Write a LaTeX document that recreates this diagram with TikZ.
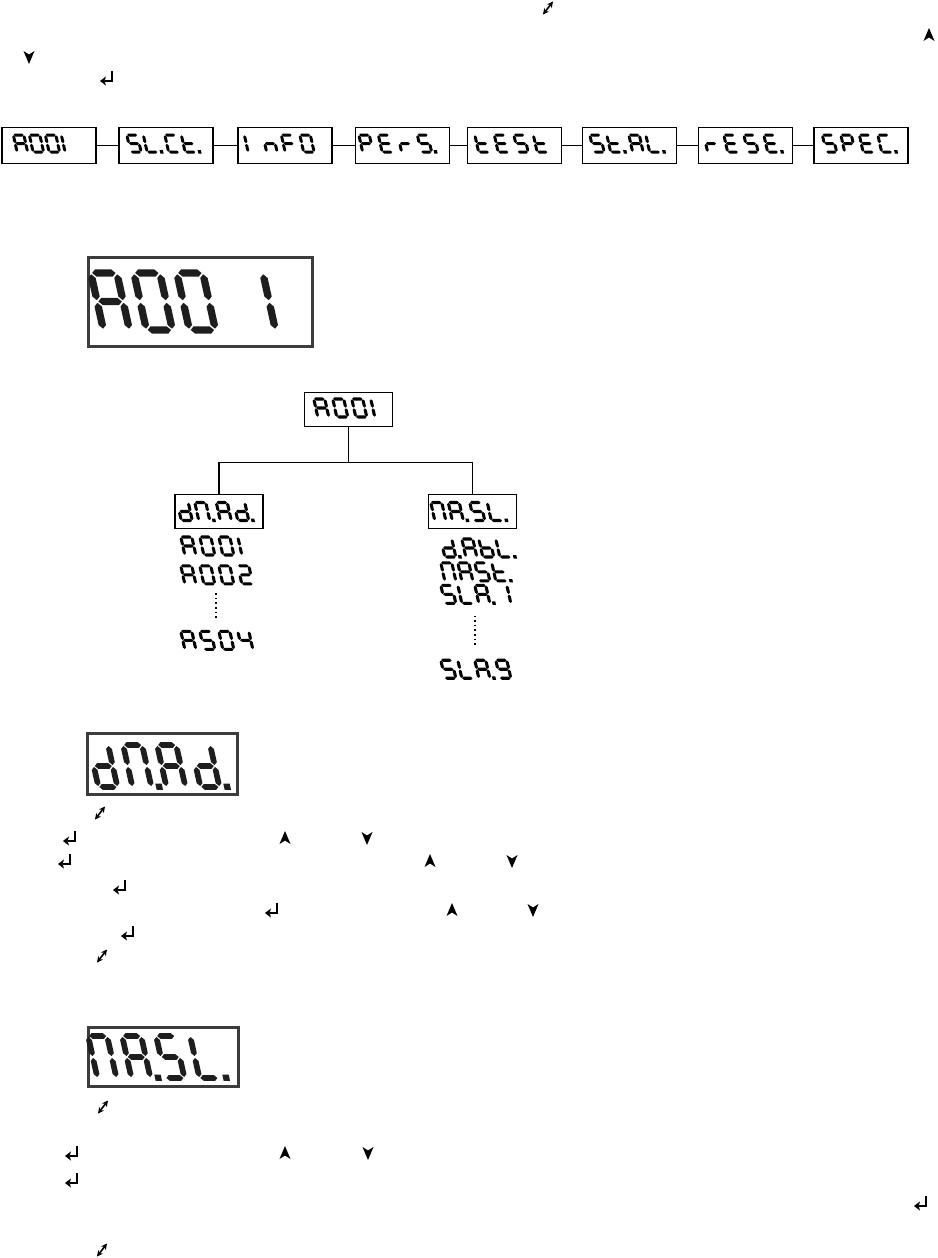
\documentclass[tikz,border=0pt]{standalone}
\usepackage{xstring}
\usepackage{tikz}
\usetikzlibrary{arrows.meta,positioning,calc}
\definecolor{Lcd}{HTML}{1E1E1E}
\definecolor{LcdFrame}{HTML}{3C3C3C}

% seven segment glyphs: \segW width, \segH half height, \segT half thickness, \segG gap, \segD room for a dot
\newcommand{\hseg}[2]{\fill (#1+\segG,#2) -- ++(\segT,\segT) -- (#1+\segW-\segG-\segT,#2+\segT) -- (#1+\segW-\segG,#2) -- (#1+\segW-\segG-\segT,#2-\segT) -- (#1+\segG+\segT,#2-\segT) -- cycle;}
\newcommand{\vseg}[2]{\fill (#1,#2+\segG) -- ++(\segT,\segT) -- (#1+\segT,#2+\segH-\segG-\segT) -- (#1,#2+\segH-\segG) -- (#1-\segT,#2+\segH-\segG-\segT) -- (#1-\segT,#2+\segG+\segT) -- cycle;}
\newcommand{\segchar}[1]{%
  \IfSubStr{#1}{a}{\hseg{0}{2*\segH}}{}%
  \IfSubStr{#1}{b}{\vseg{\segW}{\segH}}{}%
  \IfSubStr{#1}{c}{\vseg{\segW}{0}}{}%
  \IfSubStr{#1}{d}{\hseg{0}{0}}{}%
  \IfSubStr{#1}{e}{\vseg{0}{0}}{}%
  \IfSubStr{#1}{f}{\vseg{0}{\segH}}{}%
  \IfSubStr{#1}{g}{\hseg{0}{\segH}}{}%
  \IfSubStr{#1}{p}{\fill (\segW+1.6*\segT,-\segT) rectangle ++(2.2*\segT,2.2*\segT);}{}}
\newcommand{\segword}[4][]{%
  \begin{scope}[shift={#2},yscale=-1,xslant=.22,#1]
    \gdef\segx{0}%
    \foreach \c in {#4}{%
      \begin{scope}[shift={(\segx,0)}]\segchar{\c}\end{scope}%
      \IfSubStr{\c}{p}{\pgfmathsetmacro\segn{\segx+#3+\segD}}{\pgfmathsetmacro\segn{\segx+#3}}%
      \global\let\segx\segn}
  \end{scope}}

\begin{document}
\begin{tikzpicture}[
  x=1pt,y=-1pt,
  mbox/.style={draw,line width=1.8pt,minimum width=94pt,minimum height=36pt,inner sep=0pt},
  tbox/.style={draw,line width=1.5pt,minimum width=88pt,minimum height=34pt,inner sep=0pt},
  lcdframe/.style={draw=LcdFrame,line width=2.2pt,inner sep=0pt},
  item/.style={minimum height=18pt,inner sep=0pt},
  link/.style={line width=1pt},
  branch/.style={line width=1.2pt},
  dotline/.style={line width=1.6pt,dash pattern=on 1.6pt off 3pt},
  lcdsmall/.code={\def\segW{10.5}\def\segH{8.5}\def\segT{1.5}\def\segG{.3}\def\segD{5}},
  lcdtree/.code={\def\segW{11}\def\segH{9}\def\segT{1.55}\def\segG{.3}\def\segD{4}},
  lcdmid/.code={\def\segW{19}\def\segH{21}\def\segT{2.9}\def\segG{1}\def\segD{0}},
  lcdbig/.code={\def\segW{26}\def\segH{28.5}\def\segT{3.7}\def\segG{1.3}\def\segD{0}},
  enterkey/.pic={\draw[line width=1.9pt] (5,-7) -- (5,3) -- (-2,3);
    \fill (-7,3) -- (-1,-1.6) -- (-2.4,3) -- (-1,7.6) -- cycle;},
  upkey/.pic={\fill (0,-7) -- (5.5,6) -- (0,2.5) -- (-5.5,6) -- cycle;},
  downkey/.pic={\fill (0,7) -- (5.5,-6) -- (0,-2.5) -- (-5.5,-6) -- cycle;},
  bothkey/.pic={\draw[line width=1.6pt,{Stealth[length=6pt,width=6pt]}-{Stealth[length=6pt,width=6pt]}] (-5,6.5) -- (5,-6.5);}]
\fill[white] (0,0) rectangle (937,1258);
\useasboundingbox (0,0) rectangle (937,1258);

\foreach \n/\x in {m1/49,m2/166,m3/285,m4/402.5,m5/514.5,m6/629.5,m7/745.5,m8/861}
  \node[mbox] (\n) at (\x,145.5) {};
\foreach \a/\b in {m1/m2,m2/m3,m3/m4,m4/m5,m5/m6,m6/m7,m7/m8}
  \draw[link] (\a) -- (\b);
\segword[lcdsmall]{($(m1.west)+(16,6.5)$)}{16}{abcefg,abcdef,abcdef,ef}
\segword[lcdsmall]{($(m2.west)+(12.5,6.5)$)}{16.5}{acdfg,defp,adef,defgp}
\segword[lcdsmall]{($(m3.west)+(11,6.5)$)}{18.5}{ef,ceg,aefg,abcdef}
\segword[lcdsmall]{($(m4.west)+(8,6.5)$)}{19.5}{abefg,adefg,eg,acdfgp}
\segword[lcdsmall]{($(m5.west)+(12,6.5)$)}{19.5}{defg,adefg,acdfg,defg}
\segword[lcdsmall]{($(m6.west)+(12,6.5)$)}{17}{acdfg,defgp,abcefg,defp}
\segword[lcdsmall]{($(m7.west)+(10,6.5)$)}{20}{eg,adefg,acdfg,adefgp}
\segword[lcdsmall]{($(m8.west)+(13,6.5)$)}{18.5}{acdfg,abefg,adefg,adefp}

\node[lcdframe,minimum width=224pt,minimum height=89pt] (big1) at (200.5,302) {};
\segword[lcdbig,fill=Lcd]{($(big1.west)+(16,28)$)}{43}{abcefg,abcdef,abcdef,-,ef}

\node[tbox] (t0) at (348.5,409.5) {};
\node[tbox] (t1) at (219,511.5) {};
\node[tbox] (t2) at (472.5,511.5) {};
\draw[branch] (t0.south) -- ++(0,35) coordinate (fork) -| (t1.north);
\draw[branch] (fork) -| (t2.north);
\segword[lcdtree]{($(t0.west)+(14,7.5)$)}{19}{abcefg,abcdef,abcdef,ef}
\segword[lcdtree]{($(t1.west)+(7,9)$)}{17.5}{bcdeg,abcefp,abcefg,bcdegp}
\segword[lcdtree]{($(t2.west)+(7,9)$)}{17.5}{abcef,abcefgp,acdfg,defp}

\node[item,minimum width=62pt] (l1) at (216,546) {};
\node[item,minimum width=62pt,below=10.5pt of l1] (l2) {};
\node[item,minimum width=62pt,below=47pt of l2] (l3) {};
\node[item,minimum width=60pt] (r1) at (475,548) {};
\node[item,minimum width=60pt,below=5.5pt of r1] (r2) {};
\node[item,minimum width=60pt,below=4pt of r2] (r3) {};
\node[item,minimum width=60pt,below=56.5pt of r3] (r4) {};
\segword[lcdtree]{($(l1.west)+(0,9)$)}{19}{abcefg,abcdef,abcdef,ef}
\segword[lcdtree]{($(l2.west)+(0,9)$)}{19}{abcefg,abcdef,abcdef,abdeg}
\segword[lcdtree]{($(l3.west)+(0,9)$)}{19}{abcefg,acdfg,abcdef,bcfg}
\segword[lcdtree]{($(r1.west)+(0,9)$)}{17}{bcdegp,abcefg,cdefg,defp}
\segword[lcdtree]{($(r2.west)+(0,9)$)}{17}{abcef,abcefg,acdfg,defgp}
\segword[lcdtree]{($(r3.west)+(0,9)$)}{17}{acdfg,def,abcefgp,bc}
\segword[lcdtree]{($(r4.west)+(0,9)$)}{17}{acdfg,def,abcefgp,abcdfg}
\draw[dotline] ($(l2.south)+(0,9)$) -- ($(l3.north)+(0,-12)$);
\draw[dotline] ($(r3.south)+(0,12)$) -- ($(r4.north)+(0,-13)$);

\node[lcdframe,minimum width=150pt,minimum height=61pt] (big2) at (162.5,764) {};
\segword[lcdmid,fill=Lcd]{($(big2.west)+(12,23)$)}{34}{bcdeg,abcefp,abcefg,bcdegp}
\node[lcdframe,minimum width=150pt,minimum height=59pt] (big3) at (163.5,1057) {};
\segword[lcdmid,fill=Lcd]{($(big3.west)+(10,21)$)}{34}{abcef,abcefgp,acdfg,defp}

\foreach \x/\y in {107/78,70/838,65/861,120/887,272/910,128/933,72/1153,72/1180,921/1203}
  \pic at (\x,\y) {enterkey};
\foreach \x/\y in {929/35,285/838,430/861,452/910,285/1153}
  \pic at (\x,\y) {upkey};
\foreach \x/\y in {29/57,367/838,512/861,533/910,368/1153}
  \pic at (\x,\y) {downkey};
\foreach \x/\y in {548/8,100/813,102/956,103/1107,102/1250}
  \pic at (\x,\y) {bothkey};
\end{tikzpicture}
\end{document}
